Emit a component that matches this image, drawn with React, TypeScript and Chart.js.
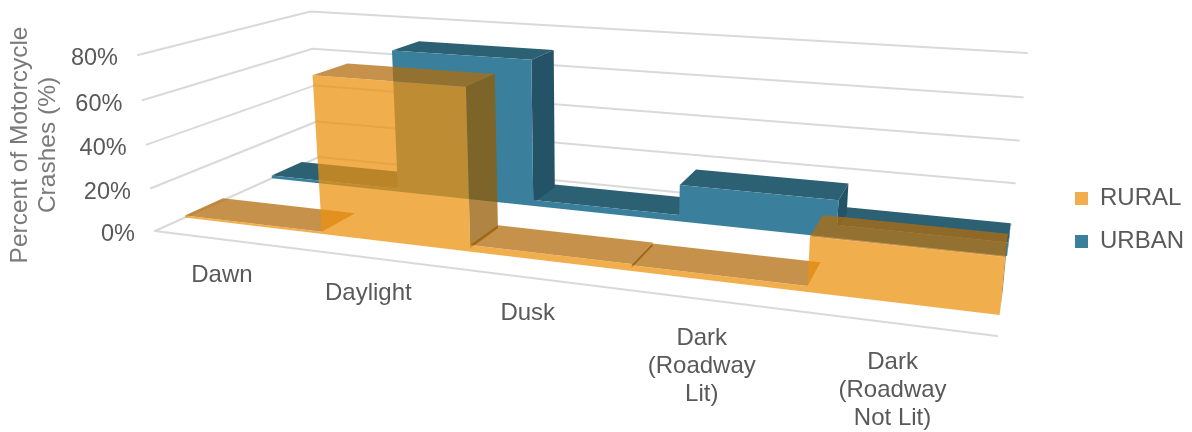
import React, { useEffect, useRef } from "react";
import { Chart, registerables } from "chart.js";

Chart.register(...registerables);

// ---- data ----
const CATEGORIES: (string | string[])[] = [
  "Dawn",
  "Daylight",
  "Dusk",
  ["Dark", "(Roadway", "Lit)"],
  ["Dark", "(Roadway", "Not Lit)"],
];
const RURAL = [1, 72, 3, 2.5, 23];
const URBAN = [1.5, 71, 3, 17.5, 6];
const Y_TICKS_MAX = 80;
const Y_TITLE = ["Percent of Motorcycle", "Crashes (%)"];

// ---- 3-D view: projective camera taking (x, depth, height), each 0..1, to the page ----
const CAM = {
  ax: 644.6, bx: 234.4, cx: 155, dx: -22.2,
  ay: 38.5, by: -39.3, cy: 231, dy: -178.1,
  wx: -0.198, wz: 0.2208, wh: -0.0376,
};
const project = (x: number, z: number, h: number): [number, number] => {
  const w = 1 + CAM.wx * x + CAM.wz * z + CAM.wh * h;
  return [
    (CAM.ax * x + CAM.bx * z + CAM.cx + CAM.dx * h) / w,
    (CAM.ay * x + CAM.by * z + CAM.cy + CAM.dy * h) / w,
  ];
};

const FAMILY = '"Liberation Sans", Arial, sans-serif';
const TEXT = "#595959";
const TITLE_TEXT = "#7a7a7a";
const GRID = "#d9d9d9";

const RURAL_STYLE = {
  depth: [0.155, 0.3675],
  front: "rgba(236,146,15,0.74)",
  top: "rgba(178,108,12,0.74)",
  side: "rgba(149,91,1,0.74)",
};
const URBAN_STYLE = {
  depth: [0.6705, 0.876],
  front: "#3a809c",
  top: "#2c6073",
  side: "#245266",
};

const poly = (ctx: CanvasRenderingContext2D, pts: [number, number][], fill: string) => {
  ctx.beginPath();
  pts.forEach((p, i) => (i ? ctx.lineTo(p[0], p[1]) : ctx.moveTo(p[0], p[1])));
  ctx.closePath();
  ctx.fillStyle = fill;
  ctx.fill();
};

const scene3d = {
  id: "scene3d",
  afterLayout(chart: any) {
    chart.legend.left += 2;
    chart.legend.right += 2;
  },
  beforeDatasetsDraw(chart: any) {
    const { ctx, scales, chartArea } = chart;
    const xs = scales.x;
    const ys = scales.y;
    const n = chart.data.labels.length;
    const band = xs.getPixelForValue(1) - xs.getPixelForValue(0);
    // flat scale pixels -> normalised 3-D coordinates
    const xEdge = (i: number) =>
      (xs.getPixelForValue(i) - band / 2 - chartArea.left) / (chartArea.right - chartArea.left);
    const xMid = (i: number) =>
      (xs.getPixelForValue(i) - chartArea.left) / (chartArea.right - chartArea.left);
    const hOf = (v: number) =>
      (chartArea.bottom - ys.getPixelForValue(v)) / (chartArea.bottom - chartArea.top);

    ctx.save();
    ctx.lineCap = "round";
    ctx.lineJoin = "round";

    // walls and floor
    ctx.strokeStyle = GRID;
    ctx.lineWidth = 2;
    const seg = (a: [number, number], b: [number, number], c?: [number, number]) => {
      ctx.beginPath();
      ctx.moveTo(a[0], a[1]);
      ctx.lineTo(b[0], b[1]);
      if (c) ctx.lineTo(c[0], c[1]);
      ctx.stroke();
    };
    ys.ticks.forEach((t: any) => {
      const h = hOf(t.value);
      seg(project(0, 0, h), project(0, 1, h), project(1, 1, h));
    });
    seg(project(0, 0, 0), project(1, 0, 0));

    // series, far one first
    const order = [1, 0];
    order.forEach((di) => {
      const ds = chart.data.datasets[di];
      const st = di === 0 ? RURAL_STYLE : URBAN_STYLE;
      const [z1, z2] = st.depth;
      const vals: number[] = ds.data;
      // top faces
      vals.forEach((v, i) => {
        const h = hOf(v);
        poly(ctx, [
          project(xEdge(i), z1, h),
          project(xEdge(i + 1), z1, h),
          project(xEdge(i + 1), z2, h),
          project(xEdge(i), z2, h),
        ], st.top);
      });
      // right-facing risers and the end cap
      vals.forEach((v, i) => {
        const next = i + 1 < n ? vals[i + 1] : 0;
        if (v > next) {
          const h = hOf(v);
          const low = hOf(next / 2);
          const x = xEdge(i + 1);
          poly(ctx, [
            project(x, z1, low),
            project(x, z2, low),
            project(x, z2, h),
            project(x, z1, h),
          ], st.side);
        }
      });
      // stepped front face
      const pts: [number, number][] = [project(xEdge(0), z1, 0)];
      vals.forEach((v, i) => {
        const h = hOf(v);
        pts.push(project(xEdge(i), z1, h));
        pts.push(project(xEdge(i + 1), z1, h));
      });
      pts.push(project(xEdge(n), z1, 0));
      poly(ctx, pts, st.front);
    });

    // value axis labels
    ctx.font = `23.5px ${FAMILY}`;
    ctx.fillStyle = TEXT;
    ctx.textAlign = "right";
    ctx.textBaseline = "middle";
    ys.ticks.forEach((t: any) => {
      const p = project(0, 0, hOf(t.value));
      ctx.fillText(`${t.value}%`, p[0] - 20, p[1] + 4);
    });

    // category labels
    ctx.font = `24px ${FAMILY}`;
    ctx.textAlign = "center";
    (chart.data.labels as (string | string[])[]).forEach((lab, i) => {
      const p = project(xMid(i), 0, 0);
      const lines = Array.isArray(lab) ? lab : [lab];
      lines.forEach((line, k) => {
        ctx.fillText(line, p[0] - 2, p[1] + (lines.length > 1 ? 39 : 36) + k * 28);
      });
    });

    // value axis title
    ctx.save();
    ctx.font = `24.5px ${FAMILY}`;
    ctx.translate(20, 145);
    ctx.rotate(-Math.PI / 2);
    ctx.fillStyle = TITLE_TEXT;
    Y_TITLE.forEach((line, k) => ctx.fillText(line, 0, k * 28));
    ctx.restore();
    ctx.restore();
  },
};

export default function App() {
  const ref = useRef<HTMLCanvasElement>(null);
  useEffect(() => {
    const chart = new Chart(ref.current as HTMLCanvasElement, {
      type: "line",
      data: {
        labels: CATEGORIES as any,
        datasets: [
          { label: "RURAL", data: RURAL, backgroundColor: RURAL_STYLE.front, borderColor: "transparent", borderWidth: 0, pointRadius: 0, showLine: false },
          { label: "URBAN", data: URBAN, backgroundColor: URBAN_STYLE.front, borderColor: "transparent", borderWidth: 0, pointRadius: 0, showLine: false },
        ],
      },
      options: {
        responsive: false,
        animation: false,
        layout: { padding: { top: 8, right: 0 } },
        scales: {
          x: { display: false, offset: true, grid: { offset: true } },
          y: { display: false, min: 0, max: Y_TICKS_MAX, ticks: { stepSize: 20 } },
        },
        plugins: {
          tooltip: { enabled: false },
          legend: {
            position: "right",
            labels: {
              boxWidth: 13,
              boxHeight: 13,
              padding: 19,
              color: TEXT,
              font: { size: 24, family: FAMILY },
            },
          },
        },
      },
      plugins: [scene3d],
    } as any);
    return () => chart.destroy();
  }, []);
  return (
    <canvas
      ref={ref}
      width={1192}
      height={432}
      style={{ position: "fixed", left: 0, top: 0, width: 1192, height: 432, display: "block", filter: "blur(0.5px)" }}
    />
  );
}
